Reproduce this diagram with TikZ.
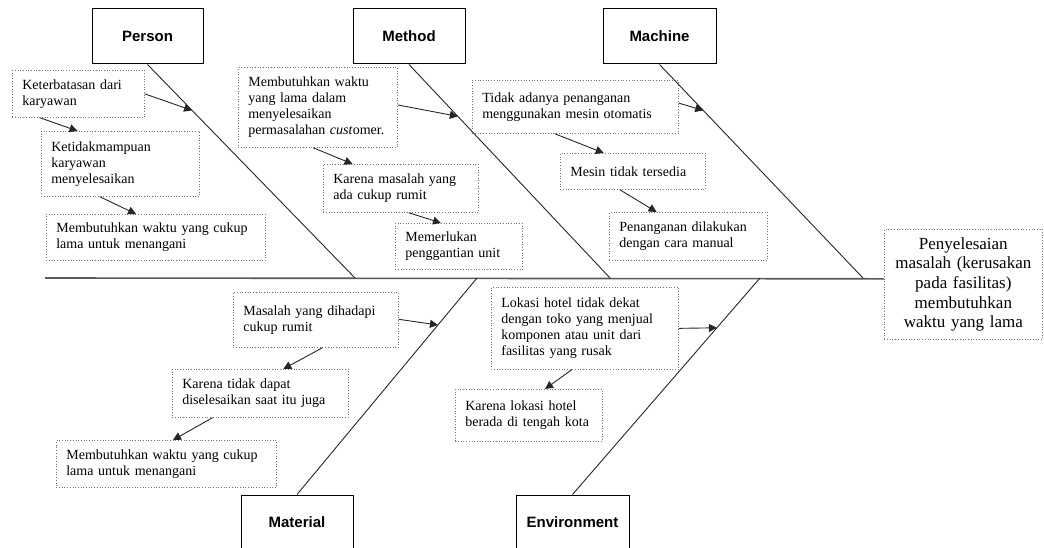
\documentclass[tikz,border=0pt]{standalone}
\usepackage{fontspec}
\setmainfont{Liberation Serif}
\newfontfamily\headfont{Liberation Sans}
\usetikzlibrary{arrows.meta,calc}

\begin{document}
\begin{tikzpicture}[x=1pt,y=-1pt,
  catbox/.style={draw, line width=1pt, minimum width=#1, minimum height=55pt,
    inner sep=0pt, font=\headfont\bfseries\fontsize{15}{18}\selectfont},
  causebox/.style 2 args={draw=black!55, dotted, line width=0.7pt, anchor=north west,
    align=left, text width=#1, minimum height=#2, inner xsep=10pt, inner ysep=0pt,
    font=\fontsize{14}{16.1}\selectfont},
  bone/.style={draw=black!85, line width=0.9pt},
  spine/.style={draw=black!65, line width=1.6pt},
  causearrow/.style={draw=black!85, line width=0.9pt,
    -{Triangle[length=8pt,width=8pt]}}]

\useasboundingbox (0,0) rectangle (1044,548);

% category heads
\node[catbox=111pt] (person) at (147.5,36.5) {Person};
\node[catbox=112pt] (method) at (409,36.5) {Method};
\node[catbox=113pt] (machine) at (659.5,36.5) {Machine};
\node[catbox=112pt] (material) at (297,522.5) {Material};
\node[catbox=113pt] (environment) at (572.5,522.5) {Environment};

% effect
\node[draw=black!55, dotted, line width=0.7pt, anchor=north west, align=center,
  text width=148pt, minimum height=110pt, inner xsep=5pt, inner ysep=0pt,
  font=\fontsize{17}{19.6}\selectfont] (eff) at (884,229)
  {Penyelesaian\\masalah (kerusakan\\pada fasilitas)\\membutuhkan\\waktu yang lama};

% spine and bones
\coordinate (s0) at (45,278);
\coordinate (sp) at (355,278);
\coordinate (sm) at (610,278);
\coordinate (sc) at (863,278);
\coordinate (st) at (477,278);
\coordinate (se) at (760,278);
\draw[spine] (s0) -- ($(eff.north west)!0.45!(eff.south west)$);
\draw[bone] (person.south) -- (sp);
\draw[bone] (method.south) -- (sm);
\draw[bone] (machine.south) -- (sc);
\draw[bone] (material.north) -- (st);
\draw[bone] (environment.north) -- (se);

% Person causes
\node[causebox={112pt}{47pt}] (k1) at (12,70) {Keterbatasan dari\\karyawan};
\node[causebox={138pt}{65pt}] (k2) at (41,131) {Ketidakmampuan\\karyawan\\menyelesaikan};
\node[causebox={199pt}{46pt}] (k3) at (46,214) {Membutuhkan waktu yang cukup\\lama untuk menangani};

% Method causes
\node[causebox={139pt}{80pt}] (m1) at (238,67) {Membutuhkan waktu\\yang lama dalam\\menyelesaikan\\permasalahan \textit{cust}omer.};
\node[causebox={135pt}{48pt}] (m2) at (323,164) {Karena masalah yang\\ada cukup rumit};
\node[causebox={107pt}{46pt}] (m3) at (395,223) {Memerlukan\\penggantian unit};

% Machine causes
\node[causebox={186pt}{53pt}] (c1) at (472,80) {Tidak adanya penanganan\\menggunakan mesin otomatis};
\node[causebox={125pt}{36pt}] (c2) at (560,153) {Mesin tidak tersedia};
\node[causebox={138pt}{48pt}] (c3) at (609,212) {Penanganan dilakukan\\dengan cara manual};

% Material causes
\node[causebox={145pt}{55pt}] (t1) at (233,292) {Masalah yang dihadapi\\cukup rumit};
\node[causebox={156pt}{48pt}] (t2) at (172,369) {Karena tidak dapat\\diselesaikan saat itu juga};
\node[causebox={200pt}{47pt}] (t3) at (56,440) {Membutuhkan waktu yang cukup\\lama untuk menangani};

% Environment causes
\node[causebox={167pt}{82pt}] (e1) at (491,287) {Lokasi hotel tidak dekat\\dengan toko yang menjual\\komponen atau unit dari\\fasilitas yang rusak};
\node[causebox={127pt}{52pt}] (e2) at (455,389) {Karena lokasi hotel\\berada di tengah kota};

% arrows into the bones
\draw[causearrow] (k1.east) -- ($(person.south)!0.215!(sp)$);
\draw[causearrow] ($(m1.north east)!0.47!(m1.south east)$) -- ($(method.south)!0.243!(sm)$);
\draw[causearrow] ($(c1.north east)!0.43!(c1.south east)$) -- ($(machine.south)!0.215!(sc)$);
\draw[causearrow] ($(t1.north east)!0.49!(t1.south east)$) -- ($(material.north)!0.783!(st)$);
\draw[causearrow] (e1.east) -- ($(environment.north)!0.77!(se)$);

% arrows between causes
\draw[causearrow] ($(k1.south west)!0.21!(k1.south east)$) -- ($(k2.north west)!0.23!(k2.north east)$);
\draw[causearrow] ($(k2.south west)!0.37!(k2.south east)$) -- ($(k3.north west)!0.41!(k3.north east)$);
\draw[causearrow] ($(m1.south west)!0.47!(m1.south east)$) -- ($(m2.north west)!0.19!(m2.north east)$);
\draw[causearrow] ($(m2.south west)!0.55!(m2.south east)$) -- ($(m3.north west)!0.36!(m3.north east)$);
\draw[causearrow] ($(c1.south west)!0.40!(c1.south east)$) -- ($(c2.north west)!0.30!(c2.north east)$);
\draw[causearrow] ($(c2.south west)!0.41!(c2.south east)$) -- ($(c3.north west)!0.30!(c3.north east)$);
\draw[causearrow] ($(t1.south west)!0.54!(t1.south east)$) -- ($(t2.north west)!0.63!(t2.north east)$);
\draw[causearrow] ($(t2.south west)!0.23!(t2.south east)$) -- ($(t3.north west)!0.53!(t3.north east)$);
\draw[causearrow] ($(e1.south west)!0.43!(e1.south east)$) -- ($(e2.north west)!0.61!(e2.north east)$);

\end{tikzpicture}
\end{document}
